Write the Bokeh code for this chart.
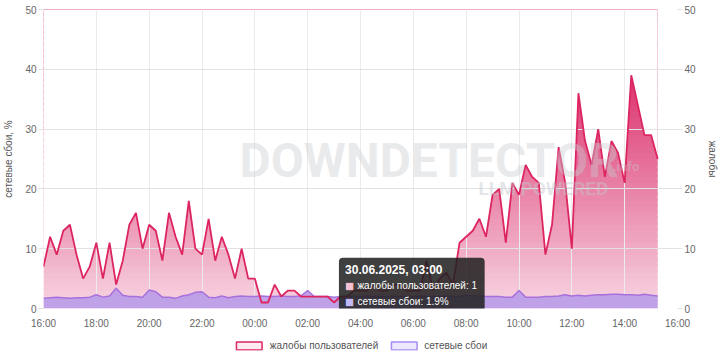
import numpy as np
import pandas as pd
from bokeh.plotting import figure
from bokeh.layouts import column
from bokeh.models import (ColumnDataSource, LinearAxis, Range1d, FixedTicker,
                          DatetimeTickFormatter, Legend, LegendItem, Label, BoxAnnotation)
from bokeh.embed import file_html
from bokeh.resources import INLINE

# ---------------- data (15-minute samples from 29.06.2025 16:00) ----------------
start = "2025-06-29 16:00"
complaints = [
    7, 12, 9, 13,      # 16:00
    14, 9, 5, 7,       # 17:00
    11, 5, 11, 4,      # 18:00
    8, 14, 16, 10,     # 19:00
    14, 13, 8, 16,     # 20:00
    12, 9, 18, 10,     # 21:00
    9, 15, 8, 12,      # 22:00
    9, 5, 10, 5,       # 23:00
    5, 1, 1, 4,        # 00:00
    2, 3, 3, 2,        # 01:00
    2, 2, 2, 2,        # 02:00
    1, 2, 2, 3,        # 03:00
    3, 3, 4, 3,        # 04:00
    3, 4, 4, 3,        # 05:00
    3, 3, 8, 3,        # 06:00
    5, 6, 4, 11,       # 07:00
    12, 13, 15, 12,    # 08:00
    19, 20, 11, 21,    # 09:00
    19, 24, 22, 21,    # 10:00
    9, 14, 27, 21,     # 11:00
    10, 36, 28, 24,    # 12:00
    30, 22, 28, 26,    # 13:00
    21, 39, 34, 29,    # 14:00
    29, 25,            # 15:00
]
network = [
    1.7, 1.8, 1.9, 1.8,
    1.7, 1.8, 1.8, 1.9,
    2.3, 1.9, 2.1, 3.4,
    2.2, 2.0, 2.0, 1.9,
    3.1, 2.8, 1.9, 1.9,
    1.7, 2.1, 2.3, 2.7,
    2.8, 1.9, 1.8, 2.1,
    1.8, 2.0, 2.1, 2.0,
    2.0, 2.1, 2.0, 2.0,
    2.1, 2.0, 2.0, 2.1,
    3.0, 2.0, 2.0, 2.0,
    1.9, 2.0, 2.0, 2.0,
    2.0, 2.1, 2.0, 2.0,
    2.0, 2.1, 2.0, 2.0,
    2.0, 2.1, 2.0, 2.0,
    2.0, 2.1, 2.0, 2.0,
    2.2, 2.1, 2.1, 2.0,
    2.0, 2.0, 1.9, 1.9,
    3.0, 1.9, 1.9, 1.9,
    2.0, 2.0, 2.1, 2.3,
    2.1, 2.2, 2.1, 2.2,
    2.3, 2.3, 2.4, 2.4,
    2.3, 2.3, 2.2, 2.4,
    2.2, 2.1,
]
x_tick_labels = ["16:00", "18:00", "20:00", "22:00", "00:00", "02:00", "04:00",
                 "06:00", "08:00", "10:00", "12:00", "14:00", "16:00"]
y_ticks = [0, 10, 20, 30, 40, 50]
series_names = ["жалобы пользователей", "сетевые сбои"]
tooltip_time = "30.06.2025, 03:00"
tooltip_index = 44  # 03:00

FONT = "Liberation Sans"
PINK = "#dd2560"
PURPLE_LINE = "#a970dc"
PURPLE_FILL = "#b99be8"

times = pd.date_range(start, periods=len(complaints), freq="15min")
t0 = pd.Timestamp(start)
t_end = t0 + pd.Timedelta(hours=24)


def ms(ts):
    return float(pd.Timestamp(ts).value // 10**6)


src = ColumnDataSource(dict(t=times, c=complaints, n=network))

p = figure(width=720, height=332, x_axis_type="datetime",
           x_range=Range1d(ms(t0), ms(t_end)), y_range=Range1d(0, 50),
           output_backend="svg", toolbar_location=None,
           min_border_left=41, min_border_right=42,
           min_border_top=9, min_border_bottom=24)
p.outline_line_color = None
p.extra_y_ranges = {"c": Range1d(0, 50)}

# ---------------- gradient fill under the complaints line ----------------
levels = np.arange(0, 50, 1.0)
lo = np.array([247, 214, 226], float)
hi = np.array([219, 45, 107], float)
frac = np.clip((levels + 0.5) / 40.0, 0, 1)
cols = ["#%02x%02x%02x" % tuple(int(round(v)) for v in lo + (hi - lo) * f) for f in frac]
band_src = ColumnDataSource(dict(left=[ms(times[0])] * len(levels),
                                 right=[ms(times[-1])] * len(levels),
                                 bottom=levels, top=levels + 1.4, color=cols))
p.quad(left="left", right="right", bottom="bottom", top="top", fill_color="color",
       line_color=None, source=band_src, level="image")
# white mask above the curve
p.varea(x="t", y1="c", y2=50, source=src, fill_color="white", level="image")

# ---------------- grid / axes ----------------
tick_ms = [ms(t0 + pd.Timedelta(hours=2 * i)) for i in range(len(x_tick_labels))]
p.xaxis.ticker = FixedTicker(ticks=tick_ms)
fmt = "%H:%M"
p.xaxis.formatter = DatetimeTickFormatter(hours=fmt, days=fmt, hourmin=fmt, minutes=fmt,
                                          months=fmt, years=fmt)
p.yaxis.ticker = FixedTicker(ticks=y_ticks)
p.yaxis.axis_label = "сетевые сбои, %"

raxis = LinearAxis(y_range_name="c", axis_label="жалобы", ticker=FixedTicker(ticks=y_ticks))
p.add_layout(raxis, "right")

for ax in p.axis:
    ax.axis_line_color = None
    ax.major_label_text_font = FONT
    ax.major_label_text_font_size = "10px"
    ax.major_label_text_color = "#666666"
    ax.axis_label_text_font = FONT
    ax.axis_label_text_font_size = "10px"
    ax.axis_label_text_font_style = "normal"
    ax.axis_label_text_color = "#555555"
    ax.minor_tick_line_color = None
    ax.major_tick_in = 0
for ax in p.yaxis:
    ax.major_tick_out = 5
    ax.major_tick_line_color = "#e2e2e2"
    ax.major_label_standoff = 2
    ax.axis_label_standoff = 8
p.xaxis.major_tick_out = 0
p.xaxis.major_tick_line_color = None
p.xaxis.major_label_standoff = 9

p.xgrid.grid_line_color = "#ebebeb"
p.ygrid.grid_line_color = "#e2e2e2"
p.xgrid.ticker = FixedTicker(ticks=tick_ms)
p.ygrid.ticker = FixedTicker(ticks=y_ticks)

# ---------------- series ----------------
p.varea(x="t", y1=0, y2="n", source=src, fill_color=PURPLE_FILL, fill_alpha=0.9)
p.line(x="t", y="n", source=src, line_color=PURPLE_LINE, line_width=1.5)
p.line(x="t", y="c", source=src, line_color=PINK, line_width=1.8, y_range_name="c")

# ---------------- watermark ----------------
p.add_layout(Label(x=ms(t0 + pd.Timedelta(hours=7.42)), y=24.7, text="DOWNDETECTOR",
                   text_font="Roboto", text_font_style="bold", text_font_size="48px",
                   text_color="#c9ccd2", text_alpha=0.42, text_baseline="middle"))
p.add_layout(Label(x=ms(t0 + pd.Timedelta(hours=21.55)), y=23.7, text=".info",
                   text_font="Roboto", text_font_style="bold", text_font_size="13px",
                   text_color="#c9ccd2", text_alpha=0.4, text_baseline="middle"))
p.add_layout(Label(x=ms(t0 + pd.Timedelta(hours=16.47)), y=20.1, text="LLM POWERED",
                   text_font="Roboto", text_font_style="bold", text_font_size="19px",
                   text_color="#c4c7cd", text_alpha=0.45, text_baseline="middle"))

# ---------------- static tooltip ----------------
tip_t = times[tooltip_index]
p.add_layout(BoxAnnotation(left=ms(tip_t + pd.Timedelta(minutes=11)),
                           right=ms(tip_t + pd.Timedelta(minutes=342)),
                           bottom=-0.5, top=8.5, border_radius=4,
                           fill_color="#222222", fill_alpha=0.87, line_color=None))
tx = ms(tip_t + pd.Timedelta(minutes=25))
txt_x = ms(tip_t + pd.Timedelta(minutes=53))
p.add_layout(Label(x=tx, y=6.5, text=tooltip_time, text_font=FONT,
                   text_font_size="12px", text_font_style="bold", text_color="white",
                   text_baseline="middle"))
p.add_layout(Label(x=tx, y=3.85, text="■", text_font=FONT, text_font_size="15px",
                   text_color="#f7bfd2", text_baseline="middle"))
p.add_layout(Label(x=txt_x, y=3.85, text=f"{series_names[0]}: {complaints[tooltip_index]}",
                   text_font=FONT, text_font_size="10px", text_color="white",
                   text_baseline="middle"))
p.add_layout(Label(x=tx, y=1.2, text="■", text_font=FONT, text_font_size="15px",
                   text_color="#c4b8f7", text_baseline="middle"))
p.add_layout(Label(x=txt_x, y=1.2, text=f"{series_names[1]}: {network[tooltip_index]}%",
                   text_font=FONT, text_font_size="10px", text_color="white",
                   text_baseline="middle"))

# ---------------- legend (separate strip below the chart) ----------------
lf = figure(width=720, height=26, output_backend="svg", toolbar_location=None,
            x_range=Range1d(0, 1), y_range=Range1d(0, 1),
            x_axis_location=None, y_axis_location=None,
            min_border_left=0, min_border_right=0, min_border_top=0, min_border_bottom=0)
lf.outline_line_color = None
lf.xgrid.visible = False
lf.ygrid.visible = False
dummy = ColumnDataSource(dict(l=[np.nan], r=[np.nan], t=[np.nan], b=[np.nan]))
r1 = lf.quad(left="l", right="r", top="t", bottom="b", source=dummy, fill_color="#fdebf1",
             line_color=PINK, line_width=1.5)
r2 = lf.quad(left="l", right="r", top="t", bottom="b", source=dummy, fill_color="#eee9fe",
             line_color="#a98bf5", line_width=1.5)
legend = Legend(items=[LegendItem(label=series_names[0], renderers=[r1]),
                       LegendItem(label=series_names[1], renderers=[r2])],
                orientation="horizontal", location="center",
                label_text_font=FONT, label_text_font_size="10px",
                label_text_color="#555555", glyph_width=32, glyph_height=10,
                label_height=10, spacing=9, label_standoff=5, padding=0, margin=0,
                border_line_color=None, background_fill_alpha=0)
lf.add_layout(legend)

open("out.html", "w").write(file_html(column(p, lf), INLINE))
